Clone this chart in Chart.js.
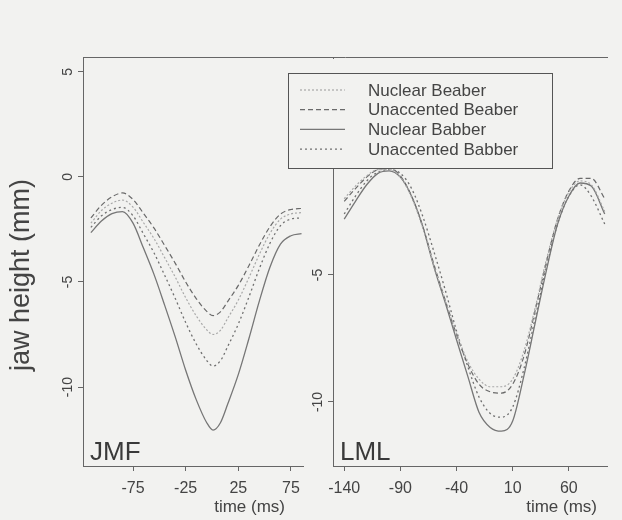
<!DOCTYPE html>
<html>
<head>
<meta charset="utf-8">
<script src="https://cdn.jsdelivr.net/npm/chart.js@4.4.0/dist/chart.umd.min.js"></script>
<style>
    html, body { margin: 0; padding: 0; background: #f2f2f0; }
    #wrap { position: relative; width: 622px; height: 520px; }
    #wrap canvas { position: absolute; left: 0; top: 0; }
</style>
</head>
<body>
<div id="wrap">
    <canvas id="jmf" width="622" height="520"></canvas>
    <canvas id="lml" width="622" height="520"></canvas>
</div>
<script>
// Legend labels (same order in both panels)
const seriesLabels = ['Nuclear Beaber', 'Unaccented Beaber', 'Nuclear Babber', 'Unaccented Babber'];

// JMF panel (left)
const jmfTime = [-115, -105, -95, -85, -75, -65, -55, -45, -35, -25, -15, -5, 1, 8, 15, 25, 35, 45, 55, 65, 75, 85];
const jmfNuclearBeaber = [-2.2, -1.6, -1.25, -1.1, -1.44, -2.18, -2.94, -3.84, -4.76, -5.75, -6.61, -7.28, -7.5, -7.3, -6.72, -5.86, -4.8, -3.68, -2.69, -2.01, -1.76, -1.7];
const jmfUnaccentedBeaber = [-1.95, -1.35, -0.95, -0.76, -1.07, -1.74, -2.44, -3.26, -4.1, -5.0, -5.79, -6.4, -6.6, -6.42, -5.92, -5.16, -4.23, -3.24, -2.37, -1.77, -1.55, -1.5];
const jmfNuclearBabber = [-2.65, -2.1, -1.75, -1.65, -2.2, -3.4, -4.65, -6.1, -7.6, -9.2, -10.6, -11.7, -12.05, -11.7, -10.8, -9.4, -7.7, -5.9, -4.3, -3.2, -2.8, -2.7];
const jmfUnaccentedBabber = [-2.4, -1.85, -1.55, -1.45, -1.85, -2.72, -3.62, -4.68, -5.77, -6.93, -7.95, -8.74, -9.0, -8.75, -8.06, -7.0, -5.72, -4.36, -3.16, -2.32, -2.0, -1.95];
const jmfXTicks = [-75, -25, 25, 75];
const jmfYTicks = [5, 0, -5, -10];

// LML panel (right)
const lmlTime = [-140, -130, -120, -110, -100, -90, -80, -70, -60, -50, -40, -30, -20, -10, 0, 10, 20, 30, 40, 50, 60, 70, 80, 92];
const lmlNuclearBeaber = [-2.0, -1.5, -1.1, -0.85, -0.85, -1.15, -1.95, -3.15, -4.65, -6.0, -7.3, -8.4, -9.1, -9.4, -9.4, -9.1, -8.0, -6.3, -4.4, -2.8, -1.75, -1.3, -1.45, -2.5];
const lmlUnaccentedBeaber = [-2.1, -1.6, -1.15, -0.85, -0.8, -1.1, -1.9, -3.1, -4.6, -6.0, -7.35, -8.5, -9.3, -9.6, -9.65, -9.3, -8.2, -6.4, -4.5, -2.8, -1.7, -1.2, -1.2, -2.0];
const lmlNuclearBabber = [-2.8, -2.1, -1.45, -1.0, -0.9, -1.15, -1.9, -3.1, -4.7, -6.1, -7.55, -8.98, -10.4, -11.0, -11.15, -10.75, -8.97, -6.9, -4.83, -3.0, -1.9, -1.38, -1.5, -2.6];
const lmlUnaccentedBabber = [-2.6, -1.9, -1.3, -0.95, -0.85, -1.0, -1.6, -2.7, -4.1, -5.6, -7.2, -8.6, -9.8, -10.45, -10.6, -10.2, -8.7, -6.7, -4.7, -3.0, -1.9, -1.45, -1.9, -3.0];
const lmlXTicks = [-140, -90, -40, 10, 60];
const lmlYTicks = [0, -5, -10];

const BG = '#f2f2f0';
const AXIS = '#666666';
const TEXT = '#444444';
const FONT = '"Liberation Sans", Arial, sans-serif';

Chart.defaults.font.family = FONT;
Chart.defaults.color = TEXT;

const lineStyles = [
    { borderColor: '#a8a8a8', borderDash: [2, 2], borderWidth: 1.2 },
    { borderColor: '#6a6a6a', borderDash: [5, 3], borderWidth: 1.2 },
    { borderColor: '#767676', borderDash: [], borderWidth: 1.3 },
    { borderColor: '#707070', borderDash: [2, 3], borderWidth: 1.3 }
];

function makeDatasets (times, series) {
    return series.map((values, i) => Object.assign({
        label: seriesLabels[i],
        data: values.map((v, j) => ({ x: times[j], y: v })),
        pointRadius: 0,
        fill: false,
        cubicInterpolationMode: 'monotone'
    }, lineStyles[i]));
}

// panel name, axis titles (placed like the original figure)
const panelText = {
    id: 'panelText',
    afterDraw (chart, args, opts) {
        const { ctx, chartArea } = chart;
        ctx.save();
        ctx.fillStyle = '#3a3a3a';
        ctx.font = '26px ' + FONT;
        ctx.textBaseline = 'alphabetic';
        ctx.fillText(opts.name, chartArea.left + 7, chartArea.bottom - 6);

        ctx.fillStyle = TEXT;
        ctx.font = '17px ' + FONT;
        ctx.textAlign = 'right';
        ctx.textBaseline = 'middle';
        ctx.fillText('time (ms)', chartArea.right - opts.xTitleInset, 507);

        if (opts.yTitle) {
            ctx.font = '27px ' + FONT;
            ctx.textAlign = 'center';
            ctx.translate(22, 275);
            ctx.rotate(-Math.PI / 2);
            ctx.fillText(opts.yTitle, 0, 0);
        }
        ctx.restore();
    }
};

// top frame line running over both panels
const topLine = {
    id: 'topLine',
    afterDraw (chart) {
        const { ctx, chartArea } = chart;
        ctx.save();
        ctx.strokeStyle = AXIS;
        ctx.lineWidth = 1;
        ctx.beginPath();
        ctx.moveTo(chartArea.left, chartArea.top + 0.5);
        ctx.lineTo(chart.width - 14, chartArea.top + 0.5);
        ctx.stroke();
        ctx.restore();
    }
};

// boxed legend, drawn from the datasets
const legendBox = {
    id: 'legendBox',
    afterDraw (chart) {
        const { ctx, chartArea } = chart;
        const x0 = chartArea.left - 45, y0 = chartArea.top + 16, w = 264, h = 95;
        ctx.save();
        ctx.fillStyle = BG;
        ctx.fillRect(chartArea.left - 3, chartArea.top + 2, 6, y0 - chartArea.top);
        ctx.fillRect(x0, y0, w, h);
        ctx.strokeStyle = '#555';
        ctx.lineWidth = 1;
        ctx.strokeRect(x0 + 0.5, y0 + 0.5, w, h);
        ctx.font = '17px ' + FONT;
        ctx.textBaseline = 'middle';
        chart.data.datasets.forEach((ds, i) => {
            const y = y0 + 17 + i * 19.7;
            ctx.strokeStyle = ds.borderColor;
            ctx.lineWidth = ds.borderWidth;
            ctx.setLineDash(ds.borderDash);
            ctx.beginPath();
            ctx.moveTo(x0 + 12, y);
            ctx.lineTo(x0 + 57, y);
            ctx.stroke();
            ctx.setLineDash([]);
            ctx.fillStyle = TEXT;
            ctx.fillText(ds.label, x0 + 80, y + 1);
        });
        ctx.restore();
    }
};

function axisX (min, max, ticks) {
    return {
        type: 'linear',
        min: min,
        max: max,
        afterBuildTicks: s => { s.ticks = ticks.map(v => ({ value: v })); },
        afterFit: s => { s.height = 54; },
        grid: { display: true, drawOnChartArea: false, drawTicks: true, tickLength: 5, tickColor: AXIS },
        border: { display: true, color: AXIS, width: 1 },
        ticks: { font: { size: 16 }, color: TEXT, padding: 8, maxRotation: 0 }
    };
}

function axisY (min, max, ticks, width) {
    return {
        type: 'linear',
        min: min,
        max: max,
        afterBuildTicks: s => { s.ticks = ticks.map(v => ({ value: v })); },
        afterFit: s => { s.width = width; },
        grid: { display: true, drawOnChartArea: false, drawTicks: true, tickLength: 5, tickColor: AXIS },
        border: { display: true, color: AXIS, width: 1 },
        ticks: { font: { size: 14 }, color: TEXT, padding: 0, minRotation: 90, maxRotation: 90, crossAlign: 'center' }
    };
}

new Chart(document.getElementById('jmf'), {
    type: 'line',
    data: {
        datasets: makeDatasets(jmfTime, [jmfNuclearBeaber, jmfUnaccentedBeaber, jmfNuclearBabber, jmfUnaccentedBabber])
    },
    options: {
        responsive: false,
        animation: false,
        events: [],
        layout: { padding: { left: 0, right: 319, top: 57, bottom: 0 } },
        plugins: {
            legend: { display: false },
            tooltip: { enabled: false },
            panelText: { name: 'JMF', xTitleInset: 18, yTitle: 'jaw height (mm)' }
        },
        scales: {
            x: axisX(-122.5, 86.4, jmfXTicks),
            y: axisY(-13.76, 5.71, jmfYTicks, 83)
        }
    },
    plugins: [panelText, topLine]
});

new Chart(document.getElementById('lml'), {
    type: 'line',
    data: {
        datasets: makeDatasets(lmlTime, [lmlNuclearBeaber, lmlUnaccentedBeaber, lmlNuclearBabber, lmlUnaccentedBabber])
    },
    options: {
        responsive: false,
        animation: false,
        events: [],
        layout: { padding: { left: 293, right: 15, top: 57, bottom: 0 } },
        plugins: {
            legend: { display: false },
            tooltip: { enabled: false },
            panelText: { name: 'LML', xTitleInset: 10 }
        },
        scales: {
            x: axisX(-150, 94, lmlXTicks),
            y: axisY(-12.52, 3.58, lmlYTicks, 40)
        }
    },
    plugins: [panelText, legendBox]
});
</script>
</body>
</html>
